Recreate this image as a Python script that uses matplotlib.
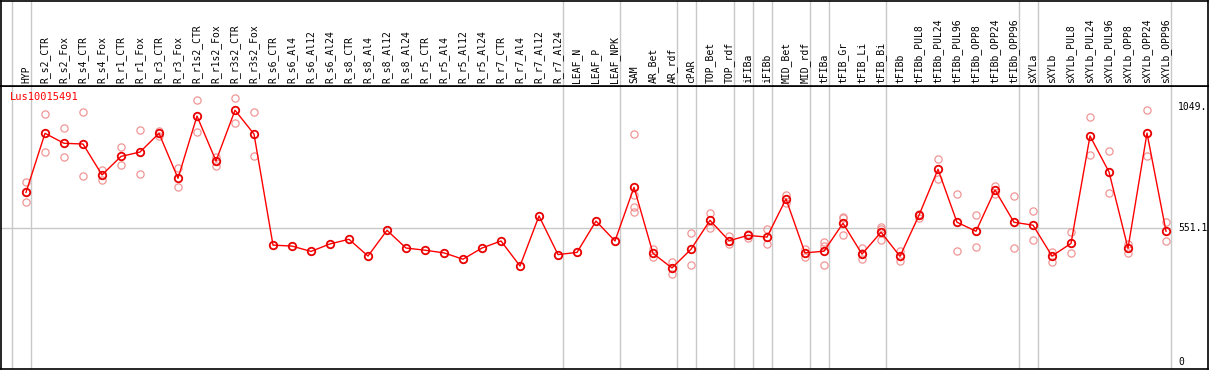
import matplotlib
matplotlib.use("Agg")
import matplotlib.pyplot as plt
import matplotlib.transforms as mtransforms

W, H = 1209, 370
DPI = 100

gene = "Lus10015491"
categories = ["HYP", "R_s2_CTR", "R_s2_Fox", "R_s4_CTR", "R_s4_Fox", "R_r1_CTR", "R_r1_Fox",
              "R_r3_CTR", "R_r3_Fox", "R_r1s2_CTR", "R_r1s2_Fox", "R_r3s2_CTR", "R_r3s2_Fox",
              "R_s6_CTR", "R_s6_Al4", "R_s6_Al12", "R_s6_Al24", "R_s8_CTR", "R_s8_Al4",
              "R_s8_Al12", "R_s8_Al24", "R_r5_CTR", "R_r5_Al4", "R_r5_Al12", "R_r5_Al24",
              "R_r7_CTR", "R_r7_Al4", "R_r7_Al12", "R_r7_Al24", "LEAF_N", "LEAF_P", "LEAF_NPK",
              "SAM", "AR_Bet", "AR_rdf", "cPAR", "TOP_Bet", "TOP_rdf", "iFIBa", "iFIBb",
              "MID_Bet", "MID_rdf", "tFIBa", "tFIB_Gr", "tFIB_Li", "tFIB_Bi", "tFIBb",
              "tFIBb_PUL8", "tFIBb_PUL24", "tFIBb_PUL96", "tFIBb_OPP8", "tFIBb_OPP24",
              "tFIBb_OPP96", "sXYLa", "sXYLb", "sXYLb_PUL8", "sXYLb_PUL24", "sXYLb_PUL96",
              "sXYLb_OPP8", "sXYLb_OPP24", "sXYLb_OPP96"]

means = [698, 941, 900, 897, 770, 846, 864, 941, 756, 1012, 827, 1036, 938,
         481, 477, 455, 486, 505, 436, 542, 469, 460, 449, 423, 469,
         498, 395, 601, 442, 451, 580, 498,
         719, 447, 387, 464, 583, 499, 521, 514, 671, 449, 456, 571, 444, 534, 435,
         604, 793, 575, 538, 708, 575, 563, 436, 488, 930, 782, 468, 942, 538]

replicates = [[740, 700, 658], [1019, 863], [962, 842], [1027, 764], [789, 749], [885, 809],
              [953, 772], [951, 932], [798, 719], [1077, 945], [845, 805], [1085, 982],
              [1027, 846],
              [], [], [], [], [], [], [], [], [], [], [], [], [], [], [], [], [], [], [],
              [938, 687, 637, 617], [466, 433], [413, 361], [530, 398], [614, 553],
              [520, 484], [527, 510], [546, 484], [686, 653], [464, 433], [493, 476, 398],
              [597, 591, 521], [470, 425, 447], [554, 548, 500], [458, 417], [609, 593],
              [834, 752], [690, 456], [604, 473], [725, 690], [682, 468], [620, 500],
              [454, 412], [535, 447], [1007, 851], [867, 695], [486, 449], [1036, 846],
              [576, 497]]

group_ends = [-1, 0, 28, 31, 34, 35, 37, 38, 39, 41, 42, 45, 52, 53, 60]
ref_values = [1049.0, 551.1, 0]
ref_labels = ["1049.", "551.1", "0"]

# pixel geometry
x0_px, dx_px = 26.0, 19.0
header_bottom_px = 86
plot_bottom_px = 369
left_px, right_px = 1, 1208
zero_px, per_px = 362.0, 4.115

xlim = ((left_px - x0_px) / dx_px, (right_px - x0_px) / dx_px)
ylim = ((zero_px - plot_bottom_px) * per_px, (zero_px - header_bottom_px) * per_px)

fig = plt.figure(figsize=(W / DPI, H / DPI), dpi=DPI)
mono = "DejaVu Sans Mono"
fs = 7

ax = fig.add_axes([left_px / W, (H - plot_bottom_px) / H, (right_px - left_px) / W,
                   (plot_bottom_px - header_bottom_px) / H])
axh = fig.add_axes([left_px / W, (H - header_bottom_px) / H, (right_px - left_px) / W,
                    (header_bottom_px - 0.5) / H], sharex=ax)

for a in (ax, axh):
    a.set_xlim(*xlim)
    a.set_xticks([])
    a.set_yticks([])
    for s in a.spines.values():
        s.set_color("black")
        s.set_linewidth(1.2)
    for g in group_ends:
        a.axvline(g + 0.25, color="#c8c8c8", lw=1.0, zorder=0)
ax.set_ylim(*ylim)
axh.set_ylim(0, 1)

sep_last = group_ends[-1] + 0.25
ax.plot([xlim[0], sep_last], [ref_values[1], ref_values[1]], color="#c8c8c8", lw=1.0, zorder=0)

xs = list(range(len(categories)))
for i, reps in enumerate(replicates):
    if reps:
        ax.plot([i] * len(reps), reps, linestyle="none", marker="o", ms=5.2,
                mfc="none", mec="#f09696", mew=0.9, zorder=2)
ax.plot(xs, means, color="red", lw=1.0, zorder=3)
ax.plot(xs, means, linestyle="none", marker="o", ms=5.4, mfc="none", mec="#e80000",
        mew=1.3, zorder=4)

trans_h = mtransforms.blended_transform_factory(axh.transData, axh.transAxes)
for i, c in enumerate(categories):
    axh.text(i, 0.035, c, rotation=90, ha="center", va="bottom", fontsize=fs,
             family=mono, transform=trans_h)

for v, lab in zip(ref_values, ref_labels):
    ax.text(sep_last + 0.4, v, lab, ha="left", va="center", fontsize=fs, family=mono)

ax.text(0.0075, 0.96, gene, transform=ax.transAxes, ha="left", va="center",
        fontsize=fs + 0.5, family=mono, color="red")

fig.savefig("out.png", dpi=DPI)
